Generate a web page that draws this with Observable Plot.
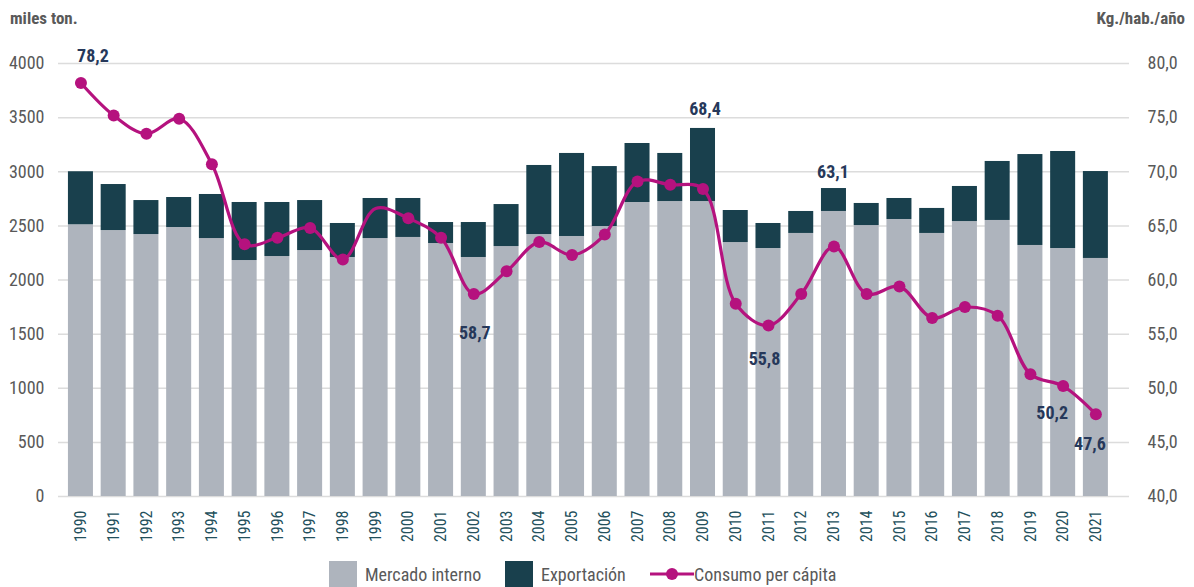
<!DOCTYPE html>
<html>
<head>
<meta charset="utf-8">
<script src="https://cdn.jsdelivr.net/npm/d3@7"></script>
<script src="https://cdn.jsdelivr.net/npm/@observablehq/plot@0.6"></script>
<style>
  html, body { margin: 0; padding: 0; background: #fff; }
  body { width: 1194px; height: 587px; position: relative; overflow: hidden;
         font-family: "Roboto Condensed", Roboto, "Liberation Sans", sans-serif; }
  .ttl { position: absolute; top: 8px; font-weight: bold; font-size: 17px; color: #595959; }
  .leg { position: absolute; top: 561px; height: 26px; display: flex; align-items: center;
         font-size: 18px; color: #595959; }
  .sw { width: 28px; height: 26px; margin-right: 8px; }
  #chart { position: absolute; left: 0; top: 0; width: 1194px; }
</style>
</head>
<body>
<div id="chart"></div>
<div class="ttl" style="left:10px">miles ton.</div>
<div class="ttl" style="right:9px">Kg./hab./año</div>
<div class="leg" style="left:329px"><div class="sw" style="background:#AEB4BD"></div>Mercado interno</div>
<div class="leg" style="left:505px"><div class="sw" style="background:#19404D"></div>Exportación</div>
<div class="leg" style="left:650px">
  <svg width="44" height="26" style="margin-right:0px"><line x1="0" x2="44" y1="13" y2="13" stroke="#B5127E" stroke-width="3"/><circle cx="22" cy="13" r="6" fill="#B5127E"/></svg>Consumo per cápita</div>
<script>
const years = d3.range(1990, 2022);
const mercadoInterno = [2510,2457,2420,2485,2383,2180,2217,2272,2208,2383,2393,2337,2208,2309,2420,2402,2494,2716,2725,2725,2346,2291,2430,2633,2503,2559,2430,2540,2550,2319,2291,2199];
const totalProduccion = [3000,2882,2734,2762,2790,2716,2716,2734,2522,2753,2753,2531,2531,2697,3058,3169,3048,3261,3169,3400,2642,2522,2633,2845,2707,2753,2661,2864,3095,3159,3187,3002];
const consumoPerCapita = [78.2,75.2,73.5,74.9,70.7,63.3,63.9,64.8,61.9,66.6,65.7,63.9,58.7,60.8,63.5,62.3,64.2,69.1,68.8,68.4,57.8,55.8,58.7,63.1,58.7,59.4,56.5,57.5,56.7,51.3,50.2,47.6];
const leftTicks = [0,500,1000,1500,2000,2500,3000,3500,4000];
const labelYears = [1990, 2002, 2009, 2011, 2013, 2020, 2021];
const yearsWithoutMarker = [1999];

const series = ["Mercado interno", "Exportación"];
const colors = ["#AEB4BD", "#19404D"];
const LINE = "#B5127E", LABEL = "#26385A", AXIS = "#595959", XAXIS = "#23505C";
const FONT = '"Roboto Condensed", Roboto, "Liberation Sans", sans-serif';

// right axis (40..80 kg) mapped onto left scale (0..4000)
const toLeft = v => (v - 40) * 100;
const fmtRight = d => (d / 100 + 40).toFixed(1).replace(".", ",");

const bars = [];
years.forEach((yr, i) => {
  bars.push({year: yr, series: series[0], value: mercadoInterno[i]});
  bars.push({year: yr, series: series[1], value: totalProduccion[i] - mercadoInterno[i]});
});
const line = years.map((yr, i) => ({year: yr, value: consumoPerCapita[i], total: totalProduccion[i]}));

// label placement (code-level styling)
const place = {
  1990: {ref: "line", dx: 12, dy: -27},
  2002: {ref: "line", dx: 1, dy: 39},
  2009: {ref: "bar", dx: 2, dy: -19},
  2011: {ref: "line", dx: -4, dy: 34},
  2013: {ref: "bar", dx: -1, dy: -16},
  2020: {ref: "line", dx: -11, dy: 27},
  2021: {ref: "line", dx: -6, dy: 30}
};
const labels = line.filter(d => labelYears.includes(d.year));
const labelMarks = labels.map(d => {
  const p = place[d.year];
  return Plot.text([d], {
    x: "year",
    y: p.ref === "bar" ? "total" : (e => toLeft(e.value)),
    text: e => e.value.toFixed(1).replace(".", ","),
    dx: p.dx, dy: p.dy, fill: LABEL, fontWeight: "bold", fontSize: 18
  });
});

const chart = Plot.plot({
  width: 1194, height: 560,
  marginLeft: 58, marginRight: 65, marginTop: 63, marginBottom: 64,
  style: {fontFamily: FONT, fontSize: "18px", background: "transparent", overflow: "visible"},
  x: {type: "band", domain: years, paddingInner: 0.236, paddingOuter: 0.474, align: 0.32, round: false, label: null},
  y: {domain: [0, 4000], label: null},
  color: {domain: series, range: colors},
  marks: [
    Plot.gridY(leftTicks, {stroke: "#dcdcdc", strokeOpacity: 1, strokeWidth: 1.5}),
    Plot.barY(bars, {x: "year", y: "value", fill: "series", order: series}),
    Plot.line(line, {x: "year", y: d => toLeft(d.value), stroke: LINE, strokeWidth: 3.2, curve: "catmull-rom"}),
    Plot.dot(line.filter(d => !yearsWithoutMarker.includes(d.year)), {x: "year", y: d => toLeft(d.value), r: 6, fill: LINE}),
    ...labelMarks,
    Plot.axisY(leftTicks, {anchor: "left", tickSize: 0, tickPadding: 14, fill: AXIS, label: null, tickFormat: d => String(d)}),
    Plot.axisY(leftTicks, {anchor: "right", tickSize: 0, tickPadding: 18, fill: AXIS, label: null, tickFormat: fmtRight}),
    Plot.axisX({tickRotate: -90, tickSize: 0, tickPadding: 14, fill: XAXIS, fontSize: 16, label: null, tickFormat: d => String(d)})
  ]
});
document.getElementById("chart").appendChild(chart);
</script>
</body>
</html>
